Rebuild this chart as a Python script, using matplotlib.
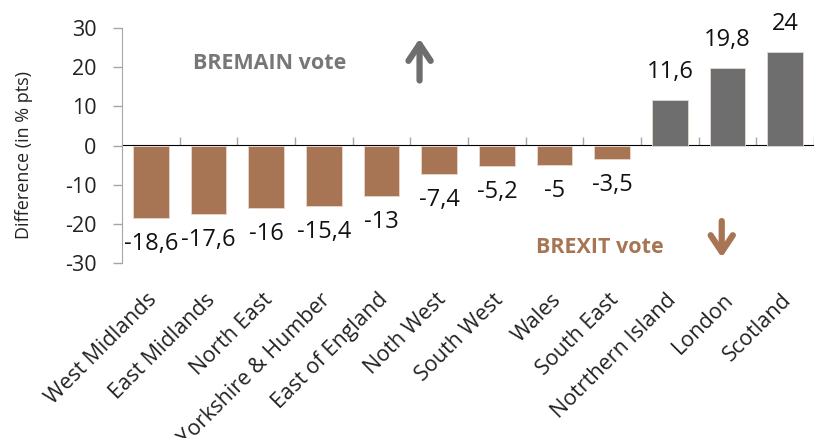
import matplotlib
matplotlib.use("Agg")
import matplotlib.pyplot as plt
import matplotlib.transforms as mtransforms
import numpy as np

plt.rcParams['font.family'] = ['Open Sans', 'DejaVu Sans']
plt.rcParams['axes.unicode_minus'] = False

regions = ["West Midlands", "East Midlands", "North East", "Yorkshire & Humber",
           "East of England", "Noth West", "South West", "Wales", "South East",
           "Notrthern Island", "London", "Scotland"]
values = [-18.6, -17.6, -16, -15.4, -13, -7.4, -5.2, -5, -3.5, 11.6, 19.8, 24]
y_ticks = [-30, -20, -10, 0, 10, 20, 30]

BROWN = "#A77454"
GRAY = "#6E6E6E"
AXIS = "#A6A6A6"

W, H = 814, 438
fig = plt.figure(figsize=(W / 100, H / 100), dpi=100)
ax = fig.add_axes([122 / W, 1 - 263 / H, (814 - 122) / W, (263 - 28) / H])

x = np.arange(len(regions))
colors = [BROWN if v < 0 else GRAY for v in values]
ax.bar(x, values, width=0.62, color=colors, edgecolor="#E8D8CC", linewidth=0.6, zorder=2)

for xi, v in zip(x, values):
    lab = f"{v:g}".replace(".", ",")
    off = -26 if v < 0 else 28
    ax.annotate(lab, (xi, v), xytext=(0, off * 0.72), textcoords="offset points",
                ha="center", va="center", fontsize=17, color="#111111")

ax.set_xlim(-0.5, len(regions) - 0.5)
ax.set_ylim(-30, 30)
ax.set_yticks(y_ticks)
ax.set_yticklabels([str(t) for t in y_ticks], fontsize=15.5, color="#222222")
ax.tick_params(axis="y", direction="out", length=6.5, width=1, color=AXIS, pad=12)
ax.set_ylabel("Difference (in % pts)", fontsize=13, color="#222222")
ax.yaxis.set_label_coords(-(122 - 33) / 692, 0.46)

for s in ["top", "right", "bottom"]:
    ax.spines[s].set_visible(False)
ax.spines["left"].set_color(AXIS)

ax.set_xticks(x)
ax.set_xticklabels(regions, rotation=45, ha="right", va="top", rotation_mode="anchor",
                   fontsize=15.5, color="#222222")
ax.tick_params(axis="x", length=0, pad=19)
shift = mtransforms.ScaledTranslation(-4 / 100, 0, fig.dpi_scale_trans)
for lbl in ax.get_xticklabels():
    lbl.set_transform(lbl.get_transform() + shift)

sec = ax.secondary_xaxis(0.5)
sec.set_xticks(np.arange(len(regions)) + 0.5)
sec.set_xticklabels([""] * len(regions))
sec.tick_params(axis="x", direction="out", length=6, width=1, color=AXIS)
sec.spines["bottom"].set_color(AXIS)

ax.text(2.06, 20.9, "BREMAIN vote", ha="center", va="center", fontsize=15.5,
        fontweight="bold", color="#777777")
ax.text(7.78, -26.0, "BREXIT vote", ha="center", va="center", fontsize=15.5,
        fontweight="bold", color=BROWN)

ax.annotate("", xy=(4.66, 27.3), xytext=(4.66, 16.6),
            arrowprops=dict(arrowstyle="->,head_length=1.2,head_width=0.8",
                            lw=4.5, color=GRAY, shrinkA=0, shrinkB=0))
ax.annotate("", xy=(9.9, -28.6), xytext=(9.9, -19.3),
            arrowprops=dict(arrowstyle="->,head_length=1.2,head_width=0.8",
                            lw=4.5, color=BROWN, shrinkA=0, shrinkB=0))

fig.savefig("out.png", dpi=100)
